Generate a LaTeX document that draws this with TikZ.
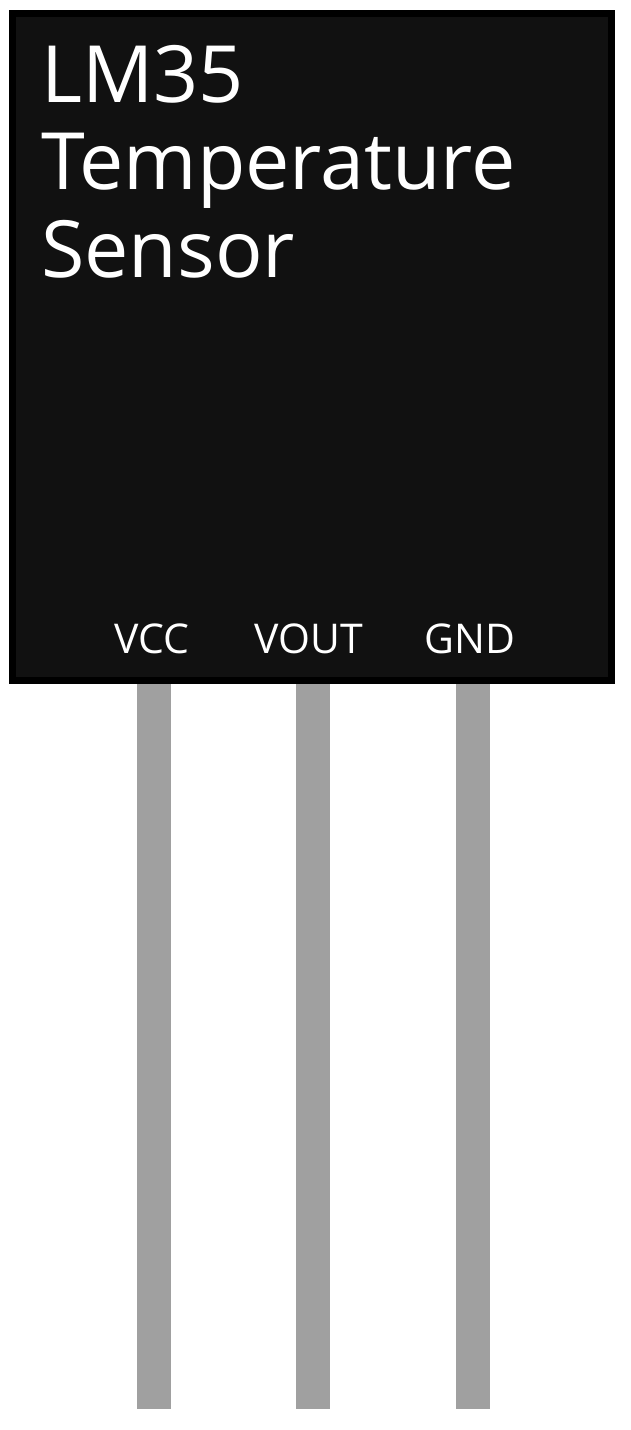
\documentclass[tikz,border=0pt]{standalone}
\usepackage{fontspec}
\setmainfont{Open Sans}
\definecolor{bodyblack}{HTML}{111111}
\definecolor{leadgray}{HTML}{A0A0A0}

\begin{document}
\begin{tikzpicture}[
    x=1pt, y=-1pt,
    title/.style={anchor=base west, inner sep=0pt, text=white, font=\fontsize{79}{88}\selectfont},
    pinlabel/.style={anchor=base, inner sep=0pt, text=white, font=\fontsize{41}{48}\selectfont},
    lead/.style={fill=leadgray},
    ]
    \useasboundingbox (0,0) rectangle (630,1430);
    % leads
    \foreach \x in {154,313,472.5}{
            \fill [lead] (\x-17,660) rectangle (\x+17,1409);
        }
    % body
    \draw [line width=7pt, fill=bodyblack] (12.5,13.5) rectangle (611.5,680.5);
    \node [title] (lm) at (41,102) {LM35};
    \node [title] (temp) at (41,189) {Temperature};
    \node [title] (sens) at (41,277) {Sensor};
    \foreach \name/\x in {VCC/151.5,VOUT/308.5,GND/470}{
            \node [pinlabel] (\name) at (\x,653) {\name};
        }
\end{tikzpicture}
\end{document}
